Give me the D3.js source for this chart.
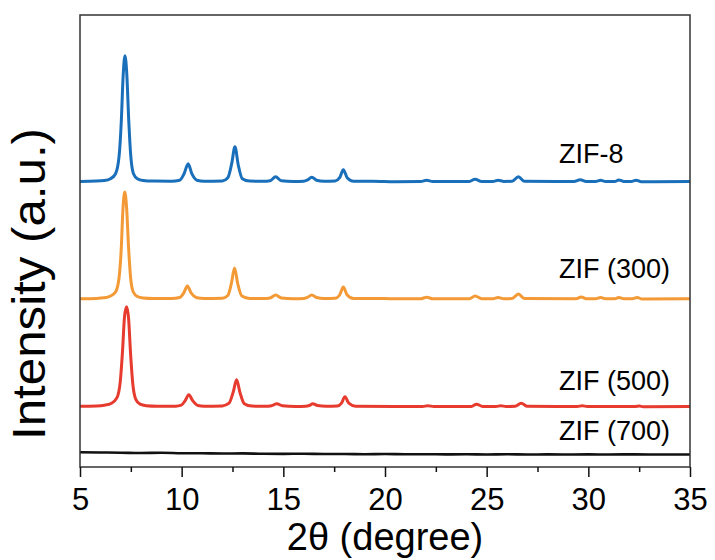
<!DOCTYPE html>
<html>
<head>
<meta charset="utf-8">
<script src="https://cdn.jsdelivr.net/npm/d3@7/dist/d3.min.js"></script>
<style>
  html, body { margin: 0; padding: 0; background: #fff; }
  svg { display: block; font-family: "Liberation Sans", Arial, sans-serif; }
</style>
</head>
<body>
<svg id="chart" width="715" height="560"></svg>
<script>
// ---------- data ----------
const seriesNames = ["ZIF-8", "ZIF (300)", "ZIF (500)", "ZIF (700)"];
const seriesColors = ["#1a6fba", "#f39a36", "#e63b2e", "#111111"];
const seriesOffsets = [285.3, 168, 60.3, 12.5];

const zif8 = [[5,0.3],[5.8,0.6],[6.2,1.2],[6.5,3],[6.75,8],[6.92,25],[7.03,60],[7.12,105],[7.21,126],[7.3,108],[7.4,60],[7.5,25],[7.63,8],[7.82,3],[8.1,1.2],[8.6,0.6],[9.5,0.5],[9.9,1.5],[10.12,8],[10.32,18],[10.5,8],[10.75,1.5],[11.1,0.5],[12.0,0.8],[12.27,4],[12.46,18],[12.62,35],[12.78,17],[12.98,3],[13.35,0.6],[14.0,0.4],[14.35,1],[14.62,5],[14.9,1],[15.5,0.3],[16.0,0.5],[16.17,1.5],[16.4,4.5],[16.63,1.5],[17.0,0.5],[17.55,0.8],[17.77,4],[17.95,12],[18.14,4],[18.45,0.5],[19.4,0.5],[20.5,0],[21.75,0.2],[22.05,1.5],[22.35,0.2],[24.15,0.3],[24.43,2.5],[24.75,0.3],[25.3,0.3],[25.56,1.5],[25.85,0.3],[26.25,0.4],[26.56,5],[26.85,0.4],[29.3,0.2],[29.6,2],[29.9,0.2],[30.35,0.2],[30.6,1.5],[30.85,0.2],[31.3,0.2],[31.5,1.8],[31.75,0.2],[32.1,0.2],[32.35,1.5],[32.6,0],[35,0.3]];

const zif300 = [[5,0.3],[5.8,0.6],[6.2,1.2],[6.5,3],[6.75,7],[6.92,21],[7.03,51],[7.11,89],[7.2,107],[7.29,92],[7.39,51],[7.49,21],[7.62,7],[7.82,2.5],[8.1,1],[8.6,0.5],[9.5,0.5],[9.9,1.5],[10.1,6],[10.28,13],[10.47,6],[10.75,1.2],[11.1,0.5],[12.0,0.8],[12.27,3.5],[12.45,16],[12.6,31],[12.76,15],[12.96,3],[13.35,0.6],[14.0,0.4],[14.35,1],[14.62,4],[14.9,1],[15.5,0.3],[16.0,0.5],[16.17,1.5],[16.4,4],[16.63,1.5],[17.0,0.5],[17.55,0.8],[17.77,4],[17.95,12],[18.14,4],[18.45,0.5],[19.4,0.6],[20.5,0.2],[21.75,0.2],[22.05,1.8],[22.35,0.2],[24.15,0.3],[24.43,3],[24.75,0.3],[25.3,0.3],[25.56,1.5],[25.85,0.3],[26.25,0.4],[26.56,5],[26.85,0.4],[29.4,0.2],[29.65,2],[29.9,0.2],[30.35,0.2],[30.6,1.5],[30.85,0.2],[31.3,0.2],[31.5,1.5],[31.75,0.2],[32.15,0.2],[32.4,1.5],[32.65,0],[35,0.3]];

const zif500 = [[5,0.5],[5.8,0.8],[6.2,1.5],[6.55,3.5],[6.82,9],[6.98,25],[7.09,55],[7.19,90],[7.29,100],[7.39,88],[7.49,52],[7.6,22],[7.75,7],[7.95,2.5],[8.25,1],[8.8,0.5],[9.7,0.5],[9.98,1.5],[10.17,6],[10.35,12],[10.54,6],[10.8,1.2],[11.1,0.5],[12.0,0.8],[12.33,3.5],[12.54,15],[12.7,27],[12.87,14],[13.08,3],[13.45,0.6],[14.1,0.4],[14.42,1],[14.68,3],[14.95,1],[15.6,0.3],[16.1,0.5],[16.27,1.2],[16.45,3],[16.68,1.2],[17.1,0.4],[17.65,0.6],[17.86,3.5],[18.03,10],[18.22,3.5],[18.55,0.5],[20.5,0.2],[21.85,0.2],[22.1,1],[22.4,0.2],[24.25,0.3],[24.5,2.5],[24.8,0.3],[25.45,0.2],[25.7,1],[25.95,0.2],[26.4,0.4],[26.7,3.5],[27.0,0.4],[29.45,0.2],[29.7,1],[29.95,0.2],[32.3,0.1],[32.5,0.6],[32.7,0],[35,0.2]];

const zif700 = [[5,2.2],[6,2],[7,1.8],[8,1.5],[9,1.7],[10,1.3],[11,1.2],[12,1],[13,1.1],[14,0.7],[15,0.6],[16,0.8],[17,0.5],[18,0.5],[19,0.3],[20,0.5],[21,0.2],[22,0.3],[23,0.1],[24,0.2],[25,0],[26,0.2],[27,0],[28,0.1],[29,0],[30,0.1],[31,0],[32,0.1],[33,0],[34,0],[35,0]];

const seriesData = [zif8, zif300, zif500, zif700];
const majorTicks = [5, 10, 15, 20, 25, 30, 35];
const minorTicks = [7.5, 12.5, 17.5, 22.5, 27.5, 32.5];
const xTitle = "2\u03B8 (degree)";
const yTitle = "Intensity (a.u.)";

// ---------- layout ----------
const L = 80, R = 690, T = 15, B = 467;
const svg = d3.select("#chart");
const x = d3.scaleLinear().domain([5, 35]).range([L, R]);
const y = d3.scaleLinear().domain([0, 452]).range([B, T]);

// curves
const line = d3.line().x(d => x(d[0])).y(d => y(d[1])).curve(d3.curveMonotoneX);
seriesData.forEach((s, i) => {
  const off = seriesOffsets[i];
  svg.append("path")
    .datum(s.map(p => [p[0], p[1] + off]))
    .attr("fill", "none")
    .attr("stroke", seriesColors[i])
    .attr("stroke-width", i === 3 ? 2.6 : 3)
    .attr("stroke-linejoin", "round")
    .attr("d", line);
});

// frame
svg.append("rect").attr("x", L).attr("y", T).attr("width", R - L).attr("height", B - T)
  .attr("fill", "none").attr("stroke", "#333").attr("stroke-width", 1.5);

// x axis
const gx = svg.append("g").attr("transform", `translate(0,${B})`)
  .call(d3.axisBottom(x).tickValues(majorTicks).tickFormat(d3.format("d"))
        .tickSize(10).tickSizeOuter(0).tickPadding(11));
gx.select(".domain").remove();
gx.selectAll(".tick line").attr("stroke", "#111").attr("stroke-width", 1.5);
gx.selectAll(".tick text").attr("font-size", 31).attr("fill", "#000")
  .attr("font-family", "'Liberation Sans', Arial, sans-serif");

const gxm = svg.append("g").attr("transform", `translate(0,${B})`)
  .call(d3.axisBottom(x).tickValues(minorTicks).tickFormat("").tickSize(5).tickSizeOuter(0));
gxm.select(".domain").remove();
gxm.selectAll(".tick line").attr("stroke", "#111").attr("stroke-width", 1.5);

// axis titles
svg.append("text").attr("x", (L + R) / 2).attr("y", 550)
  .attr("text-anchor", "middle").attr("font-size", 38).attr("fill", "#000").text(xTitle);
svg.append("text").attr("transform", "translate(45,284) rotate(-90)")
  .attr("text-anchor", "middle").attr("font-size", 46)
  .attr("textLength", 312).attr("lengthAdjust", "spacingAndGlyphs")
  .attr("fill", "#000").text(yTitle);

// series labels
const labelY = [163, 278, 390, 440];
seriesNames.forEach((n, i) => {
  svg.append("text").attr("x", 559).attr("y", labelY[i])
    .attr("font-size", 27).attr("fill", "#000").text(n);
});
</script>
</body>
</html>
